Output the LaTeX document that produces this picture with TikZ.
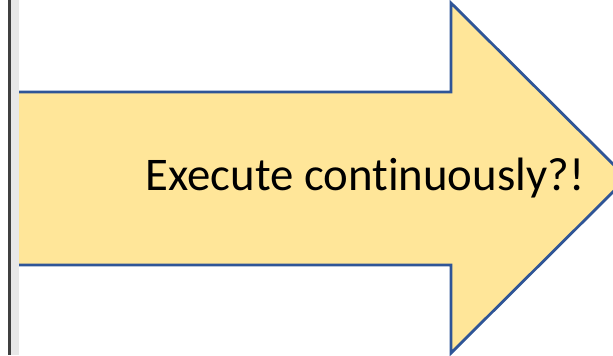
\documentclass[tikz,border=0pt]{standalone}
\usepackage{fontspec}
\setmainfont{Carlito}[Ligatures=NoCommon]
\usepackage{xcolor}
\definecolor{arrowfill}{HTML}{FFE699}
\definecolor{arrowline}{HTML}{2F5597}
\definecolor{barlight}{HTML}{E8E8E8}
\definecolor{bardark}{HTML}{404040}
\begin{document}
\begin{tikzpicture}[x=0.5pt, y=-0.5pt,
    bigarrow/.style={draw=arrowline, fill=arrowfill, line width=1.4pt},
    labeltext/.style={font=\fontsize{23.4}{28}\selectfont, text=black}]
  \useasboundingbox (0,0) rectangle (613,355);
  \clip (0,0) rectangle (613,355);
  \fill[white] (0,0) rectangle (613,355);

  % Block arrow, its tip runs past the right edge
  \draw[bigarrow] (12,92) -- (451,92) -- (451,3) -- (627,178)
    -- (451,353) -- (451,265) -- (12,265);

  % Left frame edge
  \fill[barlight] (11,0) rectangle (19,355);
  \fill[bardark] (8,0) rectangle (11,355);

  \node[labeltext] (label) at (365,178) {Execute continuously?!};
\end{tikzpicture}
\end{document}
